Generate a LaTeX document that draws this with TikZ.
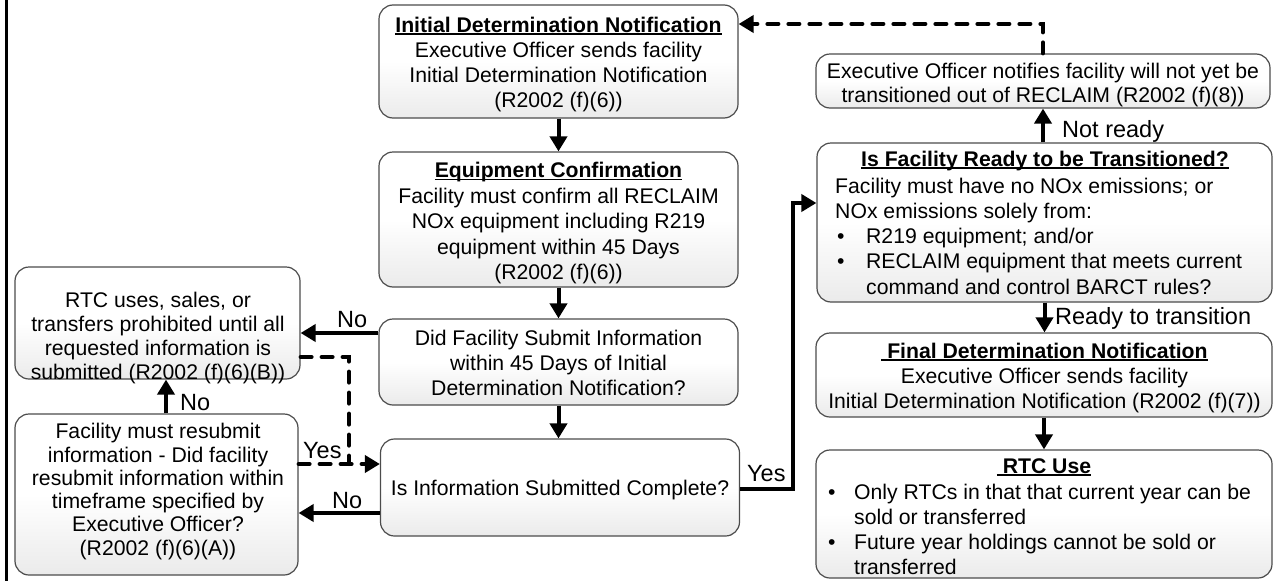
\documentclass[tikz,border=0pt]{standalone}
\usepackage{fontspec}
\setmainfont{Liberation Sans}
\usetikzlibrary{arrows.meta,calc}
\newcommand{\myst}{\rule[-0.2\baselineskip]{0pt}{\baselineskip}}
\newcommand{\myul}[1]{{\setbox0\hbox{#1}\rlap{\rule[-2.6pt]{\wd0}{1.7pt}}\box0}}
\newcommand{\bul}[1]{\makebox[#1][l]{\textbullet}}
\tikzset{
 box/.style={draw=black!70, line width=1.2pt, rounded corners=14pt, top color=white, bottom color=black!8, middle color=white, inner sep=0pt},
 txt/.style={align=center, inner sep=0pt, font=\fontsize{21.2}{25}\selectfont},
 lbl/.style={inner sep=0pt, anchor=base west, font=\fontsize{23.5}{28}\selectfont},
 arr/.style={line width=4pt, -{Triangle[width=17pt,length=15pt]}},
 dsh/.style={line width=4pt, dash pattern=on 11pt off 10pt, line cap=round}
}
\begin{document}
\begin{tikzpicture}[x=1pt,y=-1pt]
\useasboundingbox (0,0) rectangle (1275,581);
\draw[line width=3pt] (6,0) -- (6,581);

% boxes
\node[box, minimum width=359pt, minimum height=113pt] (A) at (558.5,61.5) {};
\node[box, minimum width=359pt, minimum height=135pt] (B) at (558.5,219.5) {};
\node[box, minimum width=359pt, minimum height=86pt] (C) at (558.5,362) {};
\node[box, minimum width=359pt, minimum height=97pt] (D) at (560,487.5) {};
\node[box, minimum width=285pt, minimum height=112pt] (E) at (157.5,323) {};
\node[box, minimum width=283pt, minimum height=161pt] (F) at (156.5,494.5) {};
\node[box, minimum width=454pt, minimum height=54pt] (G) at (1043,81) {};
\node[box, minimum width=455pt, minimum height=159pt] (H) at (1044.5,222.5) {};
\node[box, minimum width=456pt, minimum height=84pt] (I) at (1044,375) {};
\node[box, minimum width=456pt, minimum height=128pt] (J) at (1044,514) {};

% texts
\node[txt] (At) at (558.5,62.5) {\myst\textbf{\myul{Initial Determination Notification}}\\\myst Executive Officer sends facility\\\myst Initial Determination Notification\\\myst (R2002 (f)(6))};
\node[txt, font=\fontsize{21.2}{25.5}\selectfont] (Bt) at (558.5,221) {\myst\textbf{\myul{Equipment Confirmation}}\\\myst Facility must confirm all RECLAIM\\\myst NOx equipment including R219\\\myst equipment within 45 Days\\\myst (R2002 (f)(6))};
\node[txt] (Ct) at (558.5,363) {\myst Did Facility Submit Information\\\myst within 45 Days of Initial\\\myst Determination Notification?};
\node[txt] (Dt) at (560,488) {\myst Is Information Submitted Complete?};
\node[txt, font=\fontsize{21.2}{24}\selectfont] (Et) at (158,336) {\myst RTC uses, sales, or\\\myst transfers prohibited until all\\\myst requested information is\\\myst submitted (R2002 (f)(6)(B))};
\node[txt, font=\fontsize{21.2}{23.3}\selectfont] (Ft) at (158,490) {\myst Facility must resubmit\\\myst information - Did facility\\\myst resubmit information within\\\myst timeframe specified by\\\myst Executive Officer?\\\myst (R2002 (f)(6)(A))};
\node[txt, font=\fontsize{21.2}{24}\selectfont] (Gt) at (1043,83) {\myst Executive Officer notifies facility will not yet be\\\myst transitioned out of RECLAIM (R2002 (f)(8))};
\node[txt] (Ht) at (1045,159) {\myst\textbf{\myul{Is Facility Ready to be Transitioned?}}};
\node[txt, align=left, anchor=west, font=\fontsize{21.2}{25.25}\selectfont] (Hb) at (835,236) {\myst Facility must have no NOx emissions; or\\\myst NOx emissions solely from:\\\myst\hspace*{2pt}\bul{29pt}R219 equipment; and/or\\\myst\hspace*{2pt}\bul{29pt}RECLAIM equipment that meets current\\\myst\hspace*{31pt}command and control BARCT rules?};
\node[txt] (It) at (1044.5,376) {\myst\textbf{\myul{\ Final Determination Notification}}\\\myst Executive Officer sends facility\\\myst Initial Determination Notification (R2002 (f)(7))};
\node[txt] (Jt) at (1044,466) {\myst\textbf{\myul{\ RTC Use}}};
\node[txt, align=left, anchor=west] (Jb) at (828,529.5) {\myst\bul{26pt}Only RTCs in that that current year can be\\\myst\hspace*{26pt}sold or transferred\\\myst\bul{26pt}Future year holdings cannot be sold or\\\myst\hspace*{26pt}transferred};

% connectors
\coordinate (jn) at (349,464);
\coordinate (yc) at (793,203);
\coordinate (gc) at (1043,24);
\draw[arr] (A) -- (B);
\draw[arr] (B) -- (C);
\draw[arr] (C.south) -- (C.south |- D.north);
\draw[arr] ([yshift=29pt]C.west) -- ([yshift=29pt]C.west -| E.east);
\draw[arr] ([yshift=-25.5pt]D.west) -- ([yshift=-25.5pt]D.west -| F.east);
\draw[arr] ([xshift=9.5pt]F.north) -- ([xshift=9.5pt]F.north |- E.south);
\draw[dsh] ([yshift=-34pt]E.east) -| (jn);
\draw[dsh, arr] ([yshift=30.5pt]F.east) -- ([yshift=30.5pt]F.east -| D.west);
\draw[arr] ([yshift=-1.5pt]D.east) -| (yc) -- (yc -| H.west);
\draw[arr] (H.north -| G.south) -- (G.south);
\draw[dsh, arr] (G.north) -- (gc) -- (gc -| A.east);
\draw[arr] (H.south) -- (H.south |- I.north);
\draw[arr] (I) -- (J);

% labels
\node[lbl] (l1) at (337,327) {No};
\node[lbl] (l2) at (303,458) {Yes};
\node[lbl] (l3) at (332,508) {No};
\node[lbl] (l4) at (180,410) {No};
\node[lbl] (l5) at (1062,137) {Not ready};
\node[lbl] (l6) at (1055,324) {Ready to transition};
\node[lbl] (l7) at (747,481) {Yes};
\end{tikzpicture}
\end{document}
